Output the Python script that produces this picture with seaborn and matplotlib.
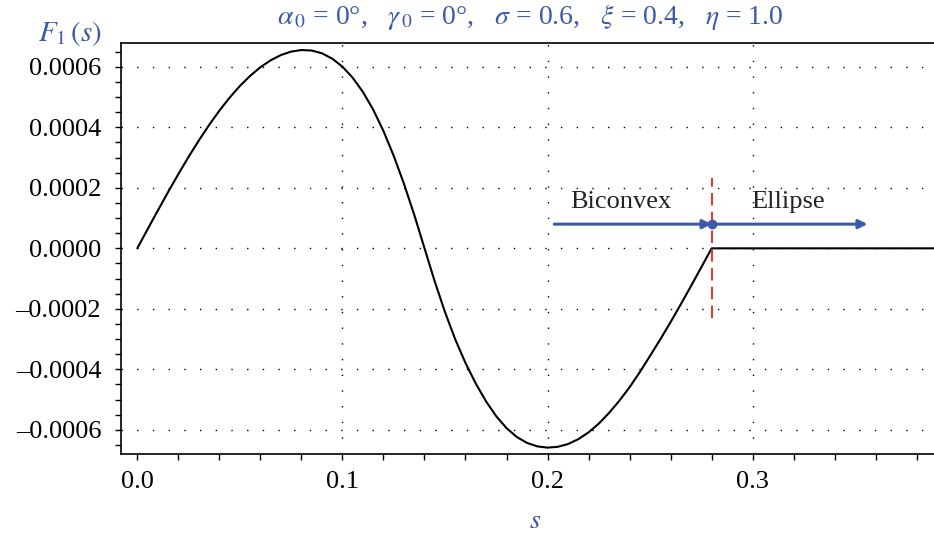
import numpy as np
import pandas as pd
import matplotlib
matplotlib.use("Agg")
import matplotlib.pyplot as plt
from matplotlib.ticker import MultipleLocator, FuncFormatter
import seaborn as sns

# Force F1 along the arc length s (biconvex part up to s = 0.28, then ellipse)
s_vals = [0.0, 0.005, 0.010, 0.015, 0.020, 0.025, 0.030, 0.035, 0.040, 0.045,
          0.050, 0.055, 0.060, 0.065, 0.070, 0.075, 0.080, 0.085, 0.090,
          0.095, 0.100, 0.105, 0.110, 0.115, 0.120, 0.125, 0.130, 0.135,
          0.140, 0.145, 0.150, 0.155, 0.160, 0.165, 0.170, 0.175, 0.180,
          0.185, 0.190, 0.195, 0.200, 0.205, 0.210, 0.215, 0.220, 0.225,
          0.230, 0.235, 0.240, 0.245, 0.250, 0.255, 0.260, 0.265, 0.270,
          0.275, 0.280, 0.390]
f1_micro = [0.0, 62.8, 124.9, 186.0, 245.3, 302.4, 356.7, 407.7, 455.0, 498.2,
            536.7, 570.3, 598.8, 621.7, 639.1, 650.5, 655.7, 654.1, 645.0,
            627.4, 600.8, 564.2, 517.1, 458.6, 388.1, 306.0, 213.5, 111.2,
            0.8, -109.4, -210.7, -301.0, -379.1, -446.9, -505.9, -555.3,
            -594.5, -623.7, -643.4, -654.8, -659.0, -656.3, -647.1, -631.1,
            -608.5, -579.5, -544.1, -504.0, -459.2, -409.1, -355.2, -300.6,
            -243.8, -184.6, -123.9, -62.0, 0.0, 0.0]
f1_vals = [v * 1e-6 for v in f1_micro]

# Transition between the two profile regions
s_switch = 0.28
marker_span = [-0.000232, 0.000232]
arrow_level = 0.00008
arrow_start = 0.2033
arrow_end = 0.356
region_labels = ["Biconvex", "Ellipse"]
region_label_s = [0.2355, 0.317]
region_label_f = 0.000154

title_text = (r"$\alpha_{\,0}$ = 0°,   $\gamma_{\,0}$ = 0°,   $\sigma$ = 0.6,   "
              r"$\xi$ = 0.4,   $\eta$ = 1.0")

sns.set_theme(style="white")
plt.rcParams["font.family"] = ["Liberation Serif", "DejaVu Serif"]
plt.rcParams["mathtext.fontset"] = "stix"

blue = "#3d5aa8"
fs = 19

fig = plt.figure(figsize=(9.34, 5.37), dpi=100)
ax = fig.add_axes([0.1292, 0.1546, 0.8708, 0.7659])

df = pd.DataFrame({"s": s_vals, "F1": f1_vals})
sns.lineplot(data=df, x="s", y="F1", ax=ax, color="black", linewidth=1.5,
             sort=False, estimator=None)
ax.lines[0].set_solid_joinstyle("round")

ax.set_xlim(-0.0081, 0.3884)
ax.set_ylim(-0.00068, 0.00068)

# switching line and region arrows
ax.plot([s_switch, s_switch], marker_span, color="#e23c35", linewidth=1.5,
        linestyle=(0, (6, 3)))
arrow_kw = dict(arrowstyle="-|>", color=blue, lw=2.2, mutation_scale=13,
                shrinkA=0, shrinkB=0)
ax.annotate("", xy=(s_switch, arrow_level), xytext=(arrow_start, arrow_level),
            arrowprops=arrow_kw)
ax.annotate("", xy=(arrow_end, arrow_level), xytext=(s_switch, arrow_level),
            arrowprops=arrow_kw)
ax.plot([s_switch], [arrow_level], marker="o", color=blue, markersize=6)
for lab, xs in zip(region_labels, region_label_s):
    ax.text(xs, region_label_f, lab, ha="center", va="center", fontsize=fs,
            color="#222222")

# axes styling
for side in ["left", "bottom", "top"]:
    ax.spines[side].set_visible(True)
    ax.spines[side].set_color("black")
    ax.spines[side].set_linewidth(1.2)
ax.spines["right"].set_visible(False)

ax.xaxis.set_major_locator(MultipleLocator(0.1))
ax.xaxis.set_minor_locator(MultipleLocator(0.02))
ax.yaxis.set_major_locator(MultipleLocator(0.0002))
ax.yaxis.set_minor_locator(MultipleLocator(0.00005))
ax.xaxis.set_major_formatter(FuncFormatter(lambda v, p: f"{v:.1f}"))


def yfmt(v, p):
    if abs(v) < 1e-12:
        return "0.0000"
    return f"{v:.4f}".replace("-", "\u2013")


ax.yaxis.set_major_formatter(FuncFormatter(yfmt))
ax.tick_params(axis="both", which="both", direction="out", length=4,
               width=1.0, colors="black", labelsize=fs, top=False, right=False,
               bottom=True, left=True)
ax.tick_params(axis="x", which="major", pad=8)
ax.tick_params(axis="y", which="major", pad=10)

ax.grid(True, which="major", color="black", linestyle=(0, (1, 10.3)),
        linewidth=1.0)
for tick_val, gl in zip(ax.get_xticks(), ax.get_xgridlines()):
    if abs(tick_val) < 1e-9:
        gl.set_visible(False)

ax.set_xlabel("")
ax.set_ylabel("")

fig.text(530 / 934, 1 - 17 / 537, title_text, ha="center", va="center",
         fontsize=fs + 1, color=blue)
fig.text(70 / 934, 1 - 33 / 537, r"$F_1\,(s)$", ha="center", va="center",
         fontsize=fs + 2, color=blue)
fig.text(535 / 934, 1 - 522 / 537, r"$s$", ha="center", va="center",
         fontsize=fs + 1, color=blue)

fig.savefig("out.png", dpi=100)
